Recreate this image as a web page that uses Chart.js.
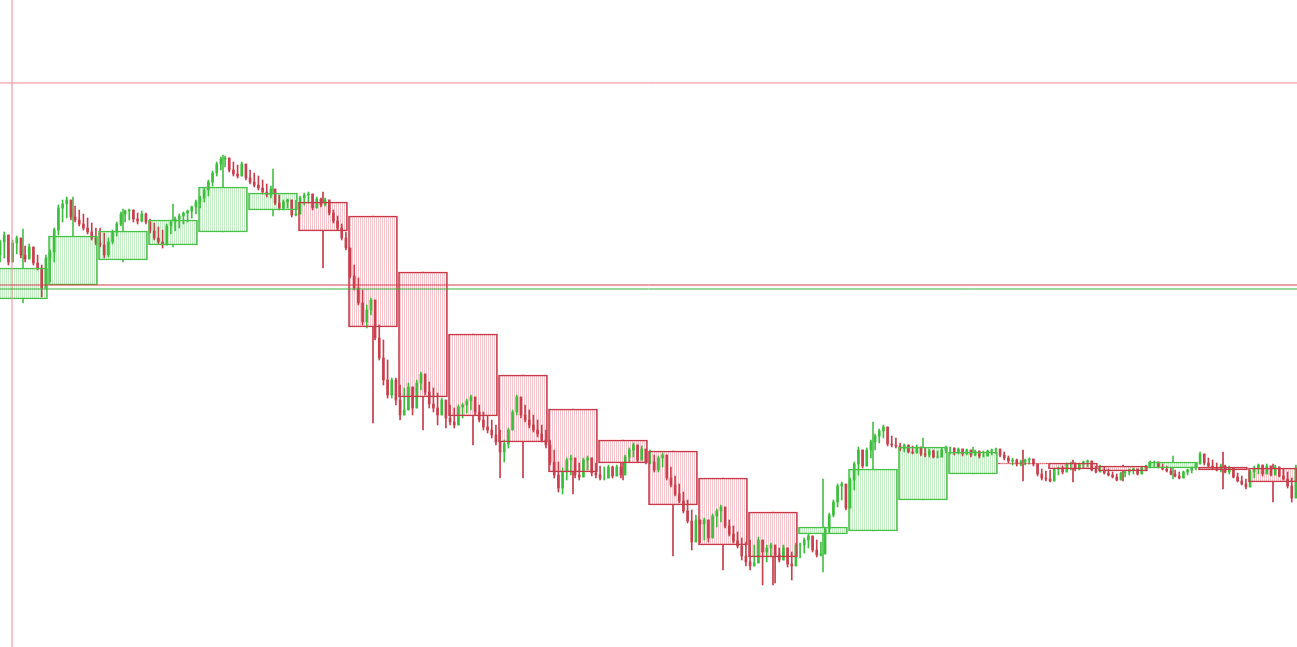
<!DOCTYPE html>
<html>
<head>
<meta charset="utf-8">
<script src="https://cdn.jsdelivr.net/npm/chart.js@4/dist/chart.umd.min.js"></script>
<style>
html, body { margin: 0; padding: 0; background: #fff; }
#wrap { width: 1297px; height: 647px; position: relative; }
</style>
</head>
<body>
<div id="wrap"><canvas id="chart"></canvas></div>
<script>
// --- DATOS (precio en puntos) ---

// velas pequeñas, 12 por cada caja
const firstOpen = 745;
const highs = [
    760,768,755,760,764,760,754,756,750,745,735,745,
    750,772,795,800,803,797,794,790,786,782,777,772,
    772,767,762,770,778,788,790,791,789,787,789,787,
    781,777,773,770,776,780,783,786,788,790,794,800,
    804,812,820,829,838,843,844,841,838,835,838,834,
    830,827,824,820,816,814,810,805,800,801,797,800,
    804,807,808,806,803,802,802,797,790,784,776,768,
    750,735,722,710,695,702,692,675,660,640,622,622,
    615,612,617,610,620,628,625,618,612,607,602,600,
    595,592,595,597,601,605,602,595,588,584,580,575,
    570,560,572,590,605,600,595,590,585,580,575,570,
    560,550,538,532,542,545,540,537,542,544,540,537,
    534,533,535,534,535,537,545,552,557,551,554,550,
    550,545,544,547,540,533,524,516,508,500,490,485,
    478,482,480,486,491,495,490,480,474,468,462,458,
    460,455,463,458,455,457,453,452,455,450,448,457,
    457,462,466,462,460,458,473,487,500,516,518,507,
    522,538,553,545,552,560,566,571,575,570,564,562,
    557,556,555,554,555,553,552,551,550,549,552,554,
    553,552,552,551,551,550,550,549,549,550,551,552,
    551,548,544,542,541,540,541,542,540,535,531,529,
    530,532,533,534,537,538,537,537,539,540,537,534,
    535,533,531,528,526,528,529,531,532,531,533,535,
    539,539,538,536,534,532,530,528,529,531,533,537,
    548,545,542,540,537,536,535,534,530,527,524,521,
    530,534,536,535,536,534,535,533,531,528,522,535
];
const lows = [
    738,742,735,744,746,742,738,742,735,730,703,715,
    718,738,765,778,782,780,778,774,770,766,760,755,
    753,742,743,756,764,774,778,780,778,776,778,776,
    767,760,756,752,760,766,769,772,776,778,782,786,
    792,798,804,814,824,830,833,828,824,822,826,820,
    816,813,810,806,803,802,795,790,790,792,783,784,
    788,795,797,790,793,793,794,785,777,770,760,750,
    722,710,695,675,672,685,660,640,615,602,602,595,
    580,588,595,585,600,610,605,592,588,575,585,572,
    575,572,580,582,587,590,585,578,570,567,562,555,
    522,538,552,570,585,582,578,572,568,563,558,552,
    535,522,508,506,520,525,522,520,526,530,524,522,
    520,520,524,522,524,522,528,538,543,538,540,536,
    536,528,528,533,520,513,504,497,487,477,450,460,
    457,460,458,467,473,478,472,464,457,452,440,434,
    430,435,442,415,438,443,417,438,440,433,420,438,
    442,447,452,448,443,444,455,467,483,493,500,490,
    498,510,525,532,537,542,550,557,562,554,553,552,
    549,548,547,546,548,544,543,543,542,542,545,547,
    546,545,546,544,545,543,544,542,543,544,545,546,
    543,540,537,535,534,534,535,536,534,524,520,519,
    518,523,525,526,528,530,529,530,532,533,529,527,
    528,526,524,522,519,521,523,525,526,525,527,529,
    532,533,532,530,528,525,523,521,523,525,527,530,
    536,535,533,531,529,528,527,526,522,518,515,511,
    516,522,526,524,526,524,525,523,520,512,498,510
];
const closes = [
    758,765,738,757,762,745,741,753,737,732,712,742,
    748,770,792,796,800,783,780,776,772,768,762,757,
    755,745,758,768,776,786,789,790,781,779,786,778,
    769,762,758,755,774,778,781,784,787,789,793,798,
    802,810,818,827,836,841,842,830,826,824,836,822,
    818,815,812,808,805,811,797,792,798,800,785,786,
    802,805,806,792,801,795,800,787,779,772,762,752,
    724,712,697,678,690,700,662,642,620,605,620,600,
    585,590,613,592,617,626,608,596,592,585,600,582,
    578,575,593,595,599,603,588,580,573,570,565,558,
    548,556,570,588,603,585,580,575,570,566,560,555,
    538,525,512,528,540,542,525,523,540,542,527,525,
    522,522,533,524,533,525,543,550,555,540,551,538,
    538,530,542,545,522,515,506,499,489,479,458,480,
    476,480,462,484,489,493,474,466,459,454,444,438,
    434,437,460,448,452,455,445,440,452,436,434,455,
    455,460,464,450,445,446,471,485,498,514,516,492,
    520,536,550,534,550,558,564,569,573,556,555,554,
    551,555,548,547,553,546,545,549,543,543,550,552,
    552,547,551,546,550,545,549,544,544,549,550,551,
    545,542,539,540,536,538,540,541,536,526,522,521,
    519,531,532,528,536,537,531,536,538,539,530,528,
    529,527,525,523,520,527,528,530,531,526,532,534,
    538,538,533,531,529,526,524,522,528,530,532,536,
    546,537,534,532,530,534,528,532,523,519,516,513,
    528,532,535,526,534,525,533,524,521,514,502,532
];

// cajas Heikin-Ashi del marco mayor
const haOpen  = [701,715,740,755,768,790,798,784,728,666,625,591,560,549,522,488,466,469,500,526,537,537,534,532,533,532];
const haClose = [732,764,769,780,813,807,769,673,603,584,558,528,537,495,455,443,473,531,553,548,536,531,529,538,530,518];
const haHigh  = [771,803,791,796,845,831,808,784,728,666,625,591,560,549,522,488,521,578,562,553,550,540,535,544,548,536];
const haLow   = [697,715,738,753,768,784,732,577,570,555,522,506,520,444,430,415,428,469,500,526,519,518,519,521,511,498];

// niveles
const LEVEL_PINK = 917;
const LEVEL_RED = 715;
const LEVEL_GREEN = 711;
const VLINE_BAR = 2.86;

const BARS_PER_BOX = 12;
const X_MIN = -0.02, X_MAX = 311.26;
const Y_MIN = 353, Y_MAX = 1000;

// --- COLORES ---
const UP = '#3cbf3c';
const DOWN = '#c8404e';
const BOX_UP = '#4cbf4c';
const BOX_DOWN = '#c43c4a';

const ctx = document.getElementById('chart').getContext('2d');

function rayado(color) {
    const c = document.createElement('canvas');
    c.width = 2; c.height = 4;
    const g = c.getContext('2d');
    g.fillStyle = color;
    g.fillRect(0, 0, 1, 4);
    return ctx.createPattern(c, 'repeat');
}
const hatchUp = rayado('#c6eec6');
const hatchDown = rayado('#f6c6cc');

// --- CONSTRUCCIÓN ---
const opens = [];
let prev = firstOpen;
closes.forEach(c => { opens.push(prev); prev = c; });

const bodyData = closes.map((c, i) => ({ x: i, y: [opens[i], c] }));
const bodyColors = closes.map((c, i) => c >= opens[i] ? UP : DOWN);
const wickData = closes.map((c, i) => ({ x: i, y: [Math.min(lows[i], opens[i], c), Math.max(highs[i], opens[i], c)] }));

const boxX = k => k * BARS_PER_BOX + 5.5;
const boxUp = haClose.map((c, k) => c >= haOpen[k]);
const boxColors = boxUp.map(u => u ? BOX_UP : BOX_DOWN);
const boxData = haOpen.map((o, k) => ({ x: boxX(k), y: [o, haClose[k]] }));
// mechas de la caja: solo fuera del cuerpo
const haUpper = haOpen.map((o, k) => ({ x: boxX(k), y: [Math.max(o, haClose[k]), haHigh[k]] }));
const haLower = haOpen.map((o, k) => ({ x: boxX(k), y: [haLow[k], Math.min(o, haClose[k])] }));

function hLine(v) { return [{ x: X_MIN, y: v }, { x: X_MAX, y: v }]; }

new Chart(ctx, {
    type: 'bar',
    data: {
        datasets: [
            { label: 'relleno', data: boxData, backgroundColor: boxUp.map(u => u ? hatchUp : hatchDown),
              borderWidth: 0, barThickness: 49, grouped: false, order: 7 },
            { label: 'mecha HA alta', data: haUpper, backgroundColor: boxColors,
              barThickness: 1, grouped: false, order: 6 },
            { label: 'mecha HA baja', data: haLower, backgroundColor: boxColors,
              barThickness: 1, grouped: false, order: 5 },
            { label: 'mechas', data: wickData, backgroundColor: bodyColors,
              barThickness: 1, grouped: false, order: 4 },
            { label: 'cuerpos', data: bodyData, backgroundColor: bodyColors,
              barThickness: 2, grouped: false, order: 3 },
            { label: 'borde', data: boxData, backgroundColor: 'rgba(0,0,0,0)',
              borderColor: boxColors, borderWidth: 1, borderSkipped: false,
              barThickness: 49, grouped: false, order: 2 },
            { type: 'line', label: 'rosa', data: hLine(LEVEL_PINK), borderColor: '#f08a9a', borderWidth: 1, pointRadius: 0, order: 1 },
            { type: 'line', label: 'rojo', data: hLine(LEVEL_RED), borderColor: '#d0404f', borderWidth: 1, pointRadius: 0, order: 1 },
            { type: 'line', label: 'verde', data: hLine(LEVEL_GREEN), borderColor: '#38b038', borderWidth: 1, pointRadius: 0, order: 1 },
            { type: 'line', label: 'vertical', data: [{ x: VLINE_BAR, y: Y_MIN }, { x: VLINE_BAR, y: Y_MAX }],
              borderColor: '#f08a9a', borderWidth: 1, pointRadius: 0, order: 1 }
        ]
    },
    options: {
        responsive: true,
        maintainAspectRatio: false,
        animation: false,
        events: [],
        layout: { padding: 0 },
        plugins: { legend: { display: false }, tooltip: { enabled: false } },
        scales: {
            x: { type: 'linear', min: X_MIN, max: X_MAX, offset: false, display: false },
            y: { min: Y_MIN, max: Y_MAX, display: false }
        }
    }
});
</script>
</body>
</html>
